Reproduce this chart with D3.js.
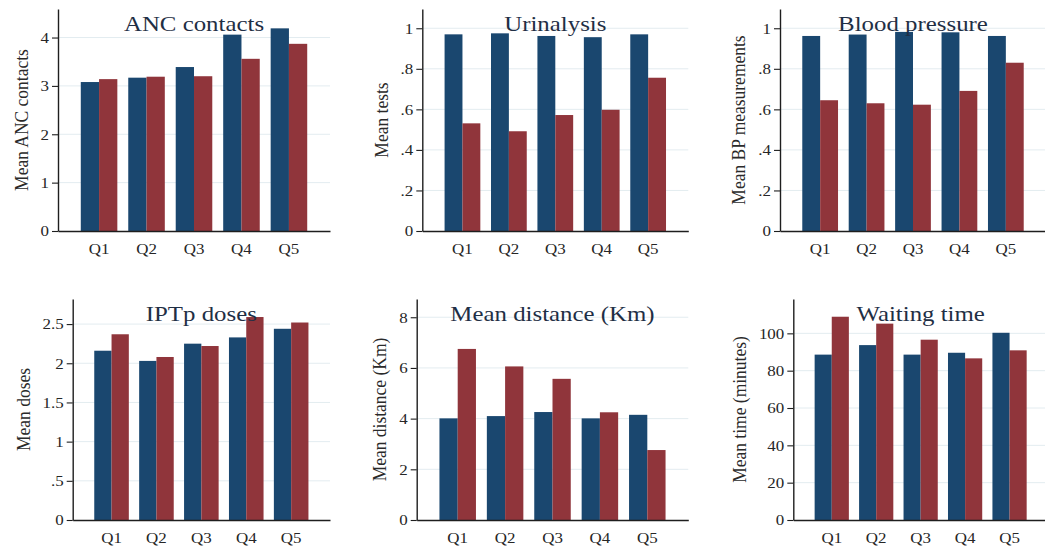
<!DOCTYPE html>
<html>
<head>
<meta charset="utf-8">
<script src="https://cdn.jsdelivr.net/npm/d3@7"></script>
<style>
  body { margin: 0; background: #fff; }
  svg { display: block; }
  text { font-family: "Liberation Serif", "Times New Roman", serif; }
</style>
</head>
<body>
<svg id="chart" width="1045" height="550"></svg>
<script>
// Wealth quintiles shown on every panel
const quintiles = ["Q1", "Q2", "Q3", "Q4", "Q5"];

// ANC contacts
const ancBlue = [3.08, 3.17, 3.39, 4.06, 4.19];
const ancRed  = [3.14, 3.19, 3.20, 3.56, 3.87];
const ancTicks = [0, 1, 2, 3, 4];
const ancTickLabels = ["0", "1", "2", "3", "4"];

// Urinalysis
const urinBlue = [0.970, 0.975, 0.962, 0.956, 0.970];
const urinRed  = [0.531, 0.492, 0.572, 0.598, 0.756];
// Blood pressure
const bpBlue = [0.962, 0.969, 0.982, 0.980, 0.962];
const bpRed  = [0.645, 0.630, 0.623, 0.691, 0.830];
const shareTicks = [0, 0.2, 0.4, 0.6, 0.8, 1];
const shareTickLabels = ["0", ".2", ".4", ".6", ".8", "1"];

// IPTp doses
const iptpBlue = [2.16, 2.03, 2.25, 2.33, 2.44];
const iptpRed  = [2.37, 2.08, 2.22, 2.59, 2.52];
const iptpTicks = [0, 0.5, 1, 1.5, 2, 2.5];
const iptpTickLabels = ["0", ".5", "1", "1.5", "2", "2.5"];

// Mean distance (Km)
const distBlue = [4.01, 4.10, 4.26, 4.01, 4.15];
const distRed  = [6.75, 6.06, 5.57, 4.25, 2.76];
const distTicks = [0, 2, 4, 6, 8];
const distTickLabels = ["0", "2", "4", "6", "8"];

// Waiting time (minutes)
const waitBlue = [88.6, 93.7, 88.6, 89.6, 100.3];
const waitRed  = [108.9, 105.2, 96.6, 86.6, 90.9];
const waitTicks = [0, 20, 40, 60, 80, 100];
const waitTickLabels = ["0", "20", "40", "60", "80", "100"];

// Panel definitions (content)
const panels = [
  { title: "ANC contacts",        yTitle: "Mean ANC contacts",     blue: ancBlue,  red: ancRed,  yMax: 4.59,  ticks: ancTicks,   labels: ancTickLabels },
  { title: "Urinalysis",          yTitle: "Mean tests",            blue: urinBlue, red: urinRed, yMax: 1.095, ticks: shareTicks, labels: shareTickLabels },
  { title: "Blood pressure",      yTitle: "Mean BP measurements",  blue: bpBlue,   red: bpRed,   yMax: 1.095, ticks: shareTicks, labels: shareTickLabels },
  { title: "IPTp doses",          yTitle: "Mean doses",            blue: iptpBlue, red: iptpRed, yMax: 2.82,  ticks: iptpTicks,  labels: iptpTickLabels },
  { title: "Mean distance (Km)",  yTitle: "Mean distance (Km)",    blue: distBlue, red: distRed, yMax: 8.72,  ticks: distTicks,  labels: distTickLabels },
  { title: "Waiting time",        yTitle: "Mean time (minutes)",   blue: waitBlue, red: waitRed, yMax: 118.4, ticks: waitTicks,  labels: waitTickLabels }
];

// Plot-region geometry for each panel (left axis x, right edge, top, baseline)
const layout = [
  { left: 58,    right: 330,  top: 9,   bottom: 231 },
  { left: 422.3, right: 688.3, top: 9,  bottom: 231 },
  { left: 780,   right: 1046, top: 9,   bottom: 231 },
  { left: 72.7,  right: 330,  top: 299, bottom: 520 },
  { left: 416.7, right: 688.3, top: 299, bottom: 520 },
  { left: 793.3, right: 1048, top: 299, bottom: 520 }
];

const NAVY = "#1a476f";
const MAROON = "#90353b";
const GRID = "#e3ecf0";
const AXIS = "#1e1e1e";
const STRETCH = 1.13;   // the serif lettering is set slightly wide

const svg = d3.select("#chart");

panels.forEach((p, i) => {
  const L = layout[i];
  const g = svg.append("g");

  const y = d3.scaleLinear().domain([0, p.yMax]).range([L.bottom, L.top]);
  const x0 = d3.scaleBand().domain(quintiles).range([L.left, L.right])
    .paddingInner(0.23).paddingOuter(0.48);
  const x1 = d3.scaleBand().domain(["blue", "red"]).range([0, x0.bandwidth()]);

  // gridlines
  g.append("g").selectAll("line")
    .data(p.ticks.filter(t => t > 0))
    .join("line")
    .attr("x1", L.left).attr("x2", L.right)
    .attr("y1", d => y(d)).attr("y2", d => y(d))
    .attr("stroke", GRID).attr("stroke-width", 1);

  // bars
  const rows = quintiles.map((q, k) => ({ q, blue: p.blue[k], red: p.red[k] }));
  const grp = g.append("g").selectAll("g")
    .data(rows).join("g")
    .attr("transform", d => `translate(${x0(d.q)},0)`);
  grp.append("rect")
    .attr("x", x1("blue")).attr("width", x1.bandwidth())
    .attr("y", d => y(d.blue)).attr("height", d => y(0) - y(d.blue))
    .attr("fill", NAVY);
  grp.append("rect")
    .attr("x", x1("red")).attr("width", x1.bandwidth())
    .attr("y", d => y(d.red)).attr("height", d => y(0) - y(d.red))
    .attr("fill", MAROON);

  // y axis
  const yAxis = g.append("g")
    .attr("transform", `translate(${L.left},0)`)
    .call(d3.axisLeft(y).tickValues(p.ticks)
      .tickFormat((d, k) => p.labels[k])
      .tickSize(6).tickSizeOuter(0).tickPadding(3));
  yAxis.select(".domain").attr("stroke", AXIS).attr("stroke-width", 1.4);
  yAxis.selectAll(".tick line").attr("stroke", AXIS).attr("stroke-width", 1.1);
  yAxis.selectAll(".tick text")
    .attr("fill", "#262626")
    .style("font-size", "15px")
    .attr("x", -9 / STRETCH)
    .attr("transform", `scale(${STRETCH},1)`);

  // x axis (category labels)
  const xAxis = g.append("g")
    .attr("transform", `translate(0,${L.bottom})`)
    .call(d3.axisBottom(x0).tickSize(0).tickSizeOuter(0).tickPadding(12));
  xAxis.select(".domain").attr("stroke", AXIS).attr("stroke-width", 1.4);
  xAxis.selectAll(".tick text")
    .attr("fill", "#262626")
    .style("font-size", "15px")
    .attr("transform", `scale(${STRETCH},1)`);

  // y-axis title placed outside the widest tick label
  let maxW = 0;
  yAxis.selectAll(".tick text").each(function () {
    maxW = Math.max(maxW, this.getComputedTextLength() * STRETCH);
  });
  const ytx = L.left - 9 - maxW - 13;
  const yty = (L.top + L.bottom) / 2;
  g.append("text")
    .attr("transform", `translate(${ytx},${yty}) scale(${STRETCH},1) rotate(-90)`)
    .attr("text-anchor", "middle")
    .attr("fill", "#2a2a2a")
    .style("font-size", "17.5px")
    .text(p.yTitle);

  // panel title
  g.append("text")
    .attr("transform", `translate(${(L.left + L.right) / 2},${L.top + 22}) scale(${STRETCH},1)`)
    .attr("text-anchor", "middle")
    .attr("fill", "#1f2f45")
    .style("font-size", "22px")
    .text(p.title);
});
</script>
</body>
</html>
